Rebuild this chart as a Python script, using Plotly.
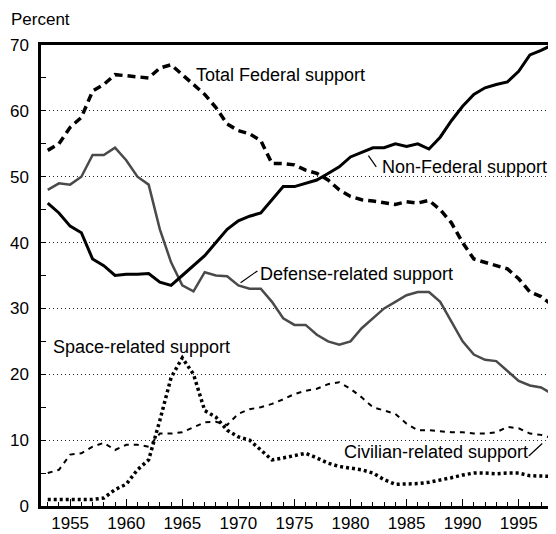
import plotly.graph_objects as go

# =========================
# Data (percent of U.S. R&D funding)
# =========================

years = list(range(1953, 1999))

total_federal = [54, 55, 57.5, 59, 63, 64, 65.5, 65.3, 65.2, 65, 66.5, 67, 65.5, 64,
                 62.5, 60.5, 58, 57, 56.5, 55.5, 52, 52, 51.8, 51, 50.5, 49.5, 48, 47,
                 46.5, 46.3, 46, 45.8, 46.2, 46, 46.4, 45, 43, 40, 37.5, 37, 36.5, 36,
                 34.5, 32.5, 31.8, 30.5]

non_federal = [46, 44.5, 42.5, 41.5, 37.5, 36.5, 35, 35.2, 35.2, 35.3, 34, 33.5, 35, 36.5,
               38, 40, 42, 43.3, 44, 44.5, 46.5, 48.5, 48.5, 49, 49.5, 50.5, 51.5, 53,
               53.7, 54.4, 54.4, 55, 54.6, 55, 54.2, 56, 58.5, 60.7, 62.5, 63.5, 64, 64.4,
               66, 68.5, 69.2, 70]

defense = [48, 49, 48.8, 50, 53.3, 53.3, 54.4, 52.5, 50, 48.8, 42, 37, 33.5, 32.6, 35.5,
           35, 34.9, 33.5, 33, 33, 31, 28.5, 27.5, 27.5, 26, 25, 24.5, 25, 27, 28.5, 30,
           31, 32, 32.5, 32.5, 31, 28, 25, 23, 22.2, 22, 20.5, 19, 18.3, 18, 17]

space = [1, 1, 1, 1, 1, 1.2, 2.5, 3.3, 5.5, 7, 13, 19.5, 22.5, 20, 14.5, 13.5, 11.5,
         10.5, 10, 8.5, 7, 7.3, 7.7, 8, 7.3, 6.5, 6, 5.8, 5.5, 5, 4, 3.3, 3.3, 3.4, 3.6,
         3.9, 4.3, 4.7, 5, 5, 4.9, 5, 5, 4.6, 4.5, 4.5]

civilian = [5, 5.5, 7.8, 8, 9, 9.6, 8.5, 9.3, 9.3, 9, 11, 11, 11.2, 12, 12.7, 12.8, 12.3,
            14, 14.7, 15, 15.5, 16.2, 17, 17.5, 17.8, 18.5, 18.8, 17.8, 16.5, 15, 14.5,
            14, 12.5, 11.5, 11.5, 11.3, 11.2, 11.2, 11, 11, 11.2, 12, 11.8, 11, 10.8, 10.3]

x_ticks = [1955, 1960, 1965, 1970, 1975, 1980, 1985, 1990, 1995]
y_ticks = [0, 10, 20, 30, 40, 50, 60, 70]

FONT = "Liberation Sans, Arial, sans-serif"

# =========================
# Figure
# =========================

fig = go.Figure()

fig.add_trace(go.Scatter(x=years, y=civilian, mode="lines",
                         line=dict(color="black", width=2, dash="5px,5px")))
fig.add_trace(go.Scatter(x=years, y=space, mode="lines",
                         line=dict(color="black", width=3.5, dash="3px,3px")))
fig.add_trace(go.Scatter(x=years, y=defense, mode="lines",
                         line=dict(color="#4a4a4a", width=2.5)))
fig.add_trace(go.Scatter(x=years, y=non_federal, mode="lines",
                         line=dict(color="black", width=3)))
fig.add_trace(go.Scatter(x=years, y=total_federal, mode="lines",
                         line=dict(color="black", width=3.5, dash="8px,5px")))

# series labels
labels = [
    ("Total Federal support", 1966.2, 65.4),
    ("Non-Federal support", 1982.8, 51.4),
    ("Defense-related support", 1971.9, 35.2),
    ("Space-related support", 1953.5, 24.2),
    ("Civilian-related support", 1979.4, 8.2),
]
for text, xv, yv in labels:
    fig.add_annotation(x=xv, y=yv, text=text, showarrow=False, xanchor="left",
                       yanchor="middle", xshift=-2,
                       font=dict(family=FONT, size=18, color="black"))

# leader lines
leaders = [
    (1981.6, 53.2, 1982.3, 51.5),
    (1970.2, 33.9, 1971.7, 35.7),
    (1995.9, 7.6, 1997.1, 9.5),
]
for x0, y0, x1, y1 in leaders:
    fig.add_shape(type="line", x0=x0, y0=y0, x1=x1, y1=y1,
                  line=dict(color="black", width=1.2))

# thin right border
fig.add_shape(type="line", xref="paper", yref="paper", x0=1, x1=1, y0=0, y1=1,
              line=dict(color="black", width=1))

fig.add_annotation(x=0, y=1, xref="paper", yref="paper", xshift=-32, yshift=14,
                   text="Percent", showarrow=False, xanchor="left", yanchor="bottom",
                   font=dict(family=FONT, size=17, color="black"))

fig.update_layout(
    width=548, height=526,
    margin=dict(l=33, r=2, t=37, b=28),
    paper_bgcolor="white", plot_bgcolor="white",
    showlegend=False,
    font=dict(family=FONT, size=17, color="black"),
)

fig.update_xaxes(
    range=[1952.4, 1998.15],
    tickvals=x_ticks, ticktext=[str(v) for v in x_ticks],
    ticks="inside", ticklen=7, tickwidth=1.2, tickcolor="black",
    minor=dict(dtick=1, tick0=1953, ticks="inside", ticklen=4, tickcolor="black"),
    showgrid=False, zeroline=False, automargin=False,
    showline=True, linecolor="black", linewidth=2.5, mirror=True,
)

fig.update_yaxes(
    range=[0, 70],
    tickvals=y_ticks, ticktext=[str(v) for v in y_ticks],
    ticks="inside", ticklen=5, tickcolor="black", ticklabelstandoff=6,
    minor=dict(dtick=5, ticks="inside", ticklen=5, tickcolor="black", showgrid=False),
    showgrid=True, gridcolor="#222222", gridwidth=1, griddash="1px,3px",
    zeroline=False, automargin=False,
    showline=True, linecolor="black", linewidth=2.5,
)

fig.write_html("out.html")
